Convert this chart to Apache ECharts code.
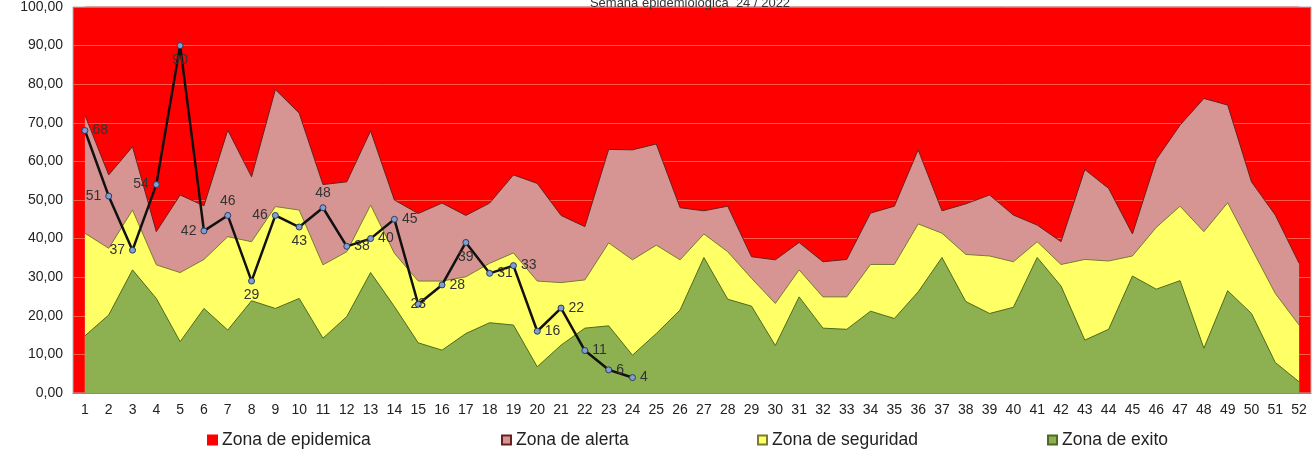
<!DOCTYPE html>
<html>
<head>
<meta charset="utf-8">
<script src="https://cdn.jsdelivr.net/npm/echarts@6/dist/echarts.min.js"></script>
<style>html,body{margin:0;padding:0;background:#fff}#c{width:1316px;height:450px}</style>
</head>
<body>
<div id="c"></div>
<script>
const weeks = Array.from({length: 52}, (_, i) => String(i + 1));
const epidemica = Array(52).fill(100);
const alerta = [72.0,56.5,63.8,41.8,51.3,48.5,68.1,56.0,78.6,72.5,54.0,54.7,67.9,50.0,46.5,49.2,46.0,49.2,56.5,54.3,46.0,43.1,63.1,63.0,64.5,48.0,47.2,48.4,35.3,34.5,39.0,34.0,34.6,46.6,48.4,63.0,47.2,49.0,51.3,46.1,43.5,39.2,57.9,53.0,41.2,60.5,69.4,76.3,74.6,54.7,46.1,33.6];
const seguridad = [41.4,37.5,47.4,33.2,31.2,34.6,40.5,39.2,48.3,47.4,33.2,36.6,48.7,36.2,29.0,29.0,30.1,33.6,36.3,29.0,28.6,29.3,38.9,34.5,38.3,34.5,41.2,36.6,29.7,23.2,31.9,24.9,24.9,33.3,33.3,43.8,41.4,35.9,35.5,34.0,39.2,33.3,34.6,34.2,35.5,42.9,48.4,41.8,49.3,37.5,25.8,17.6];
const exito = [14.8,20.2,31.9,24.5,13.3,21.9,16.3,23.9,21.9,24.5,14.2,19.8,31.2,22.4,13.0,11.1,15.4,18.2,17.6,6.8,12.4,16.8,17.4,9.8,15.4,21.5,35.1,24.3,22.5,12.3,24.9,16.8,16.5,21.2,19.3,26.2,35.1,23.7,20.6,22.2,35.1,27.7,13.7,16.5,30.3,26.9,29.1,11.6,26.5,20.6,7.9,2.9];
const casos2022 = [68,51,37,54,90,42,46,29,46,43,48,38,40,45,23,28,39,31,33,16,22,11,6,4];
const yTicks = [0,10,20,30,40,50,60,70,80,90,100];

const labelPos = ['right','left','left','left','bottom','left','top','bottom','left','bottom','top','right','right','right','inside','right','bottom','right','right','right','right','right','right','right'];

const chart = echarts.init(document.getElementById('c'));
const font = 'Liberation Sans, Arial, sans-serif';

function area(name, data, color, border, z) {
  return {
    name, type: 'line', data, z,
    symbol: 'none',
    lineStyle: {color: border, width: 1},
    itemStyle: {color: color, borderColor: border, borderWidth: 1},
    areaStyle: {color: color, opacity: 1},
    emphasis: {disabled: true},
    animation: false
  };
}

const legendBase = {
  top: 426, itemWidth: 9, itemHeight: 9, itemGap: 4,
  textStyle: {fontSize: 17.5, color: '#222', fontFamily: font},
  icon: 'rect'
};

chart.setOption({
  animation: false,
  title: {
    text: 'Semana epidemiológica  24 / 2022',
    left: 685, textAlign: 'center', top: -8,
    textStyle: {fontSize: 13, fontWeight: 'normal', color: '#333', fontFamily: font}
  },
  legend: [
    Object.assign({}, legendBase, {left: 202, data: ['Zona de epidemica']}),
    Object.assign({}, legendBase, {left: 496, data: ['Zona de alerta']}),
    Object.assign({}, legendBase, {left: 752, data: ['Zona de seguridad']}),
    Object.assign({}, legendBase, {left: 1042, data: ['Zona de exito']})
  ],
  grid: {left: 73, right: 5, top: 7, bottom: 57, show: true, backgroundColor: '#ff0000', borderColor: '#b0b0b0', borderWidth: 1},
  xAxis: {
    type: 'category', data: weeks, boundaryGap: true,
    axisLine: {show: true, lineStyle: {color: '#888'}},
    axisTick: {show: false},
    axisLabel: {fontSize: 14, color: '#222', fontFamily: font, margin: 10, interval: 0}
  },
  yAxis: {
    type: 'value', min: yTicks[0], max: yTicks[yTicks.length - 1], interval: 10, z: 1,
    axisLine: {show: false}, axisTick: {show: false},
    axisLabel: {fontSize: 14, color: '#222', fontFamily: font, margin: 10,
      formatter: v => v.toFixed(2).replace('.', ',')},
    splitLine: {show: true, lineStyle: {color: '#ff5a4a', width: 1}}
  },
  series: [
    area('Zona de epidemica', epidemica, '#ff0000', '#ff0000', 0),
    area('Zona de alerta', alerta, '#d69592', '#6b2020', 2),
    area('Zona de seguridad', seguridad, '#ffff66', '#7a7a30', 3),
    area('Zona de exito', exito, '#8db150', '#4d6a20', 4),
    {
      name: '2022', type: 'line', z: 6,
      data: casos2022.map((v, i) => ({value: v, label: {position: labelPos[i]}})),
      symbol: 'circle', symbolSize: 6,
      itemStyle: {color: '#7f9fcf', borderColor: '#2a3a60', borderWidth: 1},
      lineStyle: {color: '#111', width: 2.5},
      label: {show: true, fontSize: 14, color: '#333', fontFamily: font, distance: 4},
      emphasis: {disabled: true}
    }
  ]
});
</script>
</body>
</html>
